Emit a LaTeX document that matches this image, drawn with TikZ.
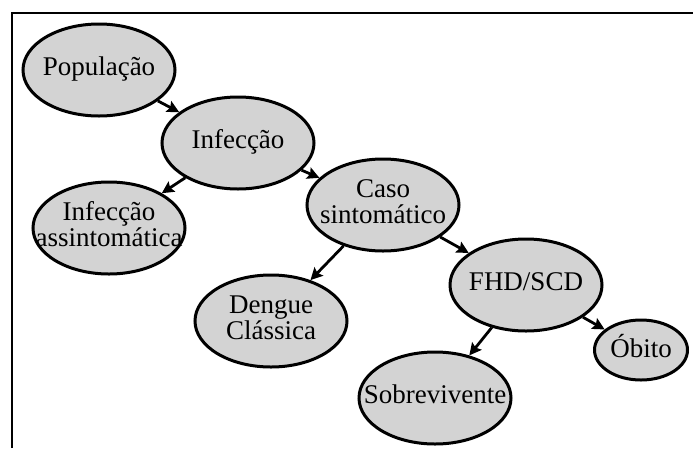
\documentclass[tikz,border=0pt]{standalone}
\usepackage{fontspec}
\setmainfont{Liberation Serif}
\usetikzlibrary{shapes.geometric, arrows.meta}
\definecolor{stagefill}{RGB}{211,211,211}
\tikzset{>={Stealth[length=12pt, width=12pt, inset=2pt]}}
\tikzset{
    stage/.style={ellipse, draw, line width=3pt, fill=stagefill, inner sep=0pt,
        minimum width=152pt, minimum height=92pt, font=\fontsize{27}{24}\selectfont},
    small stage/.style={stage, minimum width=93pt, minimum height=60pt},
    flow/.style={->, line width=2.8pt}
}
\newcommand{\lbl}[1]{\makebox[0pt]{\begin{tabular}{@{}c@{}}#1\end{tabular}}}

\begin{document}
\begin{tikzpicture}[x=1pt, y=-1pt]
    \useasboundingbox (0,0) rectangle (693,448);
    % frame
    \draw[line width=2.5pt] (12,448) -- (12,13) -- (693,13);
    % stages
    \node[stage] (pop) at (99,70) {\lbl{População}};
    \node[stage] (inf) at (238,143) {\lbl{Infecção}};
    \node[stage] (assint) at (109,228) {\lbl{Infecção\\assintomática}};
    \node[stage] (caso) at (383,205) {\lbl{Caso\\sintomático}};
    \node[stage] (dengue) at (271,321) {\lbl{Dengue\\Clássica}};
    \node[stage] (fhd) at (526,285) {\lbl{FHD/SCD}};
    \node[small stage] (obito) at (641,350) {\lbl{Óbito}};
    \node[stage] (sobre) at (435,398) {\lbl{Sobrevivente}};
    % arrows
    \draw[flow] (pop) -- (inf);
    \draw[flow] (inf) -- (assint);
    \draw[flow] (inf) -- (caso);
    \draw[flow] (caso) -- (dengue);
    \draw[flow] (caso) -- (fhd);
    \draw[flow] (fhd) -- (sobre);
    \draw[flow] (fhd) -- (obito);
\end{tikzpicture}
\end{document}
